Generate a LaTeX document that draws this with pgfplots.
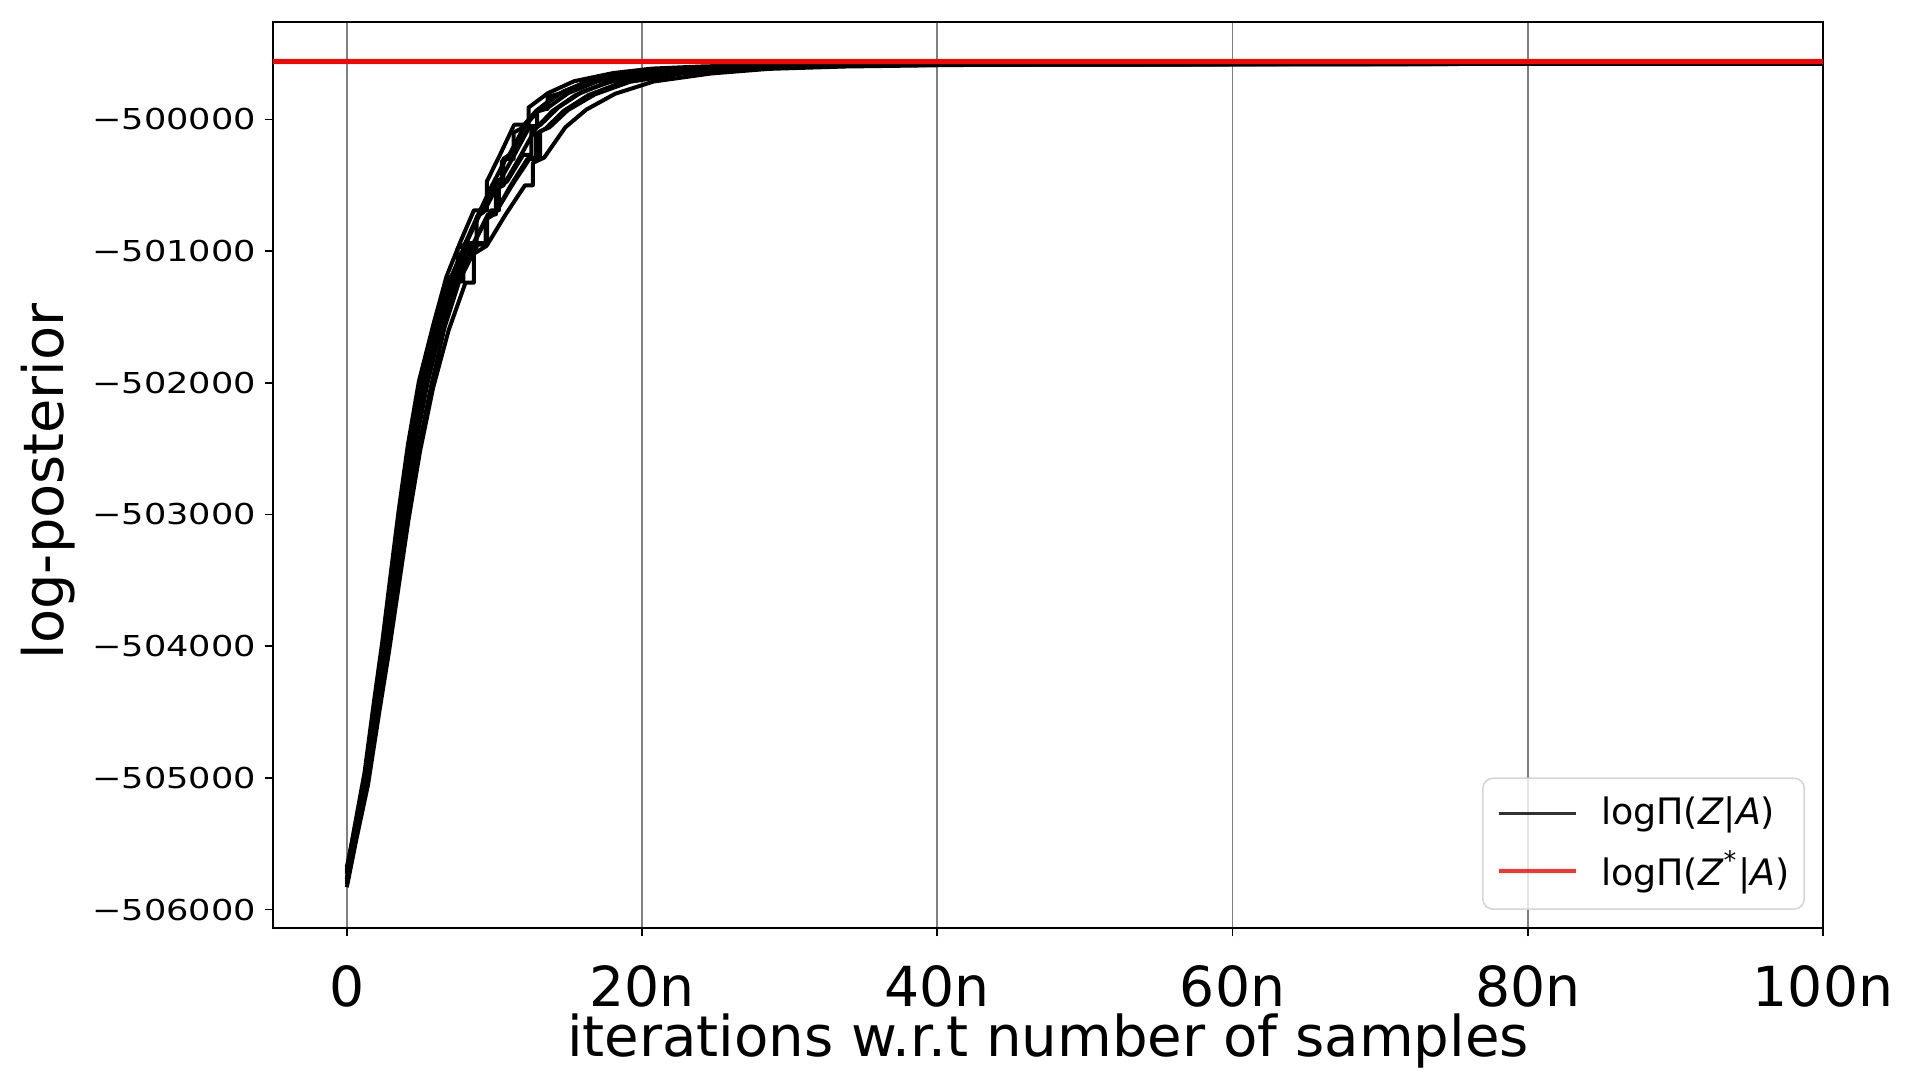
\documentclass[border=0pt]{standalone}
\usepackage{fontspec}
\setmainfont{DejaVu Sans}
\newfontfamily\ytfont[FakeStretch=1.22]{DejaVu Sans}
\usepackage{pgfplots}
\pgfplotsset{compat=1.18}

\begin{document}
\begin{tikzpicture}
\begin{axis}[
  at={(0,0)}, anchor=south west,
  width=387.5pt, height=226.5pt, scale only axis,
  xmin=-5, xmax=100, ymin=-506140, ymax=-499260,
  xtick={0,20,40,60,80,100},
  xticklabels={0,20n,40n,60n,80n,100n},
  ytick={-506000,-505000,-504000,-503000,-502000,-501000,-500000},
  yticklabels={−506000,−505000,−504000,−503000,−502000,−501000,−500000},
  scaled y ticks=false,
  tick align=outside, tick pos=left, major tick length=2.1pt,
  tick style={black, line width=0.45pt},
  axis line style={line width=0.45pt},
  xmajorgrids, grid style={gray, line width=0.4pt},
  xticklabel style={font=\fontsize{13.8}{15}\selectfont, anchor=base, yshift=-17.5pt, inner sep=0pt},
  yticklabel style={font=\ytfont\fontsize{7.2}{8}\selectfont, anchor=east, inner sep=0pt, xshift=-2pt},
  xlabel={iterations w.r.t number of samples},
  xlabel style={font=\fontsize{14.05}{16}\selectfont, at={(axis description cs:0.5,0)}, anchor=base, yshift=-32.1pt},
  ylabel={log-posterior},
  ylabel style={font=\fontsize{13.95}{16}\selectfont, at={(axis description cs:-0.145,0.493)}, anchor=center},
  legend style={at={(0.9884,0.02)}, anchor=south east,
    draw=black!20, rounded corners=2.5pt, fill=white, fill opacity=0.8, draw opacity=0.8, text opacity=1,
    inner xsep=3.6pt, inner ysep=2.5pt, row sep=1.2pt,
    nodes={inner xsep=0pt},
    font=\fontsize{9.1}{10}\selectfont},
  legend cell align=left,
  legend image code/.code={\draw[#1, line width=0.8pt] (0pt,0pt) -- (19.2pt,0pt); \path (25pt,0pt);},
  every axis plot/.append style={line join=round},
]
% chains
\addplot[black, line width=1pt] coordinates {(0,-505700) (0.56,-505350) (1.2,-504960) (1.84,-504420) (2.4,-503970) (2.94,-503480) (3.5,-502980) (4.14,-502470) (4.88,-501990) (5.88,-501550) (6.76,-501190) (7.73,-500920) (8.61,-500690) (9.49,-500690) (9.49,-500470) (10.37,-500270) (11.34,-500040) (12.31,-500040) (12.31,-499910) (13.63,-499800) (15.39,-499710) (18.03,-499648) (20.67,-499614) (24.19,-499597) (28.59,-499588) (32.99,-499582) (100,-499575)};
\addlegendentry{logΠ(\textit{Z}|\textit{A})\hspace{0.8pt}}
\addplot[black, line width=1pt, forget plot] coordinates {(0,-505790) (0.57,-505420) (1.23,-505020) (1.9,-504470) (2.47,-504020) (3.04,-503520) (3.6,-503020) (4.27,-502500) (5.03,-502020) (6.03,-501580) (6.96,-501220) (7.5,-501220) (7.5,-500980) (7.98,-500950) (8.91,-500720) (9.84,-500500) (10.77,-500300) (11.3,-500300) (11.3,-500100) (11.79,-500070) (12.82,-499935) (14.21,-499815) (16.07,-499720) (18.86,-499655) (21.65,-499618) (25.37,-499600) (30.02,-499590) (34.67,-499583) (100,-499576)};
\addplot[black, line width=1pt, forget plot] coordinates {(0,-505730) (0.6,-505380) (1.3,-504980) (2.0,-504430) (2.6,-503980) (3.2,-503480) (3.8,-502980) (4.5,-502460) (5.3,-501980) (6.17,-501540) (6.6,-501540) (6.6,-501260) (7.14,-501180) (8.21,-500910) (9.18,-500680) (10.15,-500460) (10.6,-500460) (10.6,-500300) (11.12,-500260) (12.19,-500030) (13.25,-499900) (14.71,-499785) (16.65,-499700) (19.56,-499645) (22.47,-499612) (26.35,-499596) (31.2,-499587) (36.05,-499581) (100,-499575)};
\addplot[black, line width=1pt, forget plot] coordinates {(0,-505760) (0.6,-505410) (1.3,-505010) (2.0,-504460) (2.6,-504010) (3.2,-503510) (3.8,-503010) (4.5,-502490) (5.3,-502010) (6.2,-501570) (7.2,-501210) (8.3,-500940) (8.8,-500940) (8.8,-500740) (9.3,-500700) (10.3,-500480) (11.3,-500280) (12.4,-500050) (12.9,-500050) (12.9,-499940) (13.5,-499920) (15,-499800) (17,-499710) (20,-499650) (23,-499615) (27,-499598) (32,-499588) (37,-499582) (100,-499575)};
\addplot[black, line width=1pt, forget plot] coordinates {(0,-505810) (0.61,-505440) (1.33,-505030) (2.04,-504480) (2.65,-504030) (3.26,-503530) (3.88,-503030) (4.59,-502510) (5.41,-502030) (6.35,-501590) (7.39,-501230) (7.9,-501230) (7.9,-500990) (8.53,-500950) (9.57,-500720) (10.1,-500720) (10.1,-500530) (10.61,-500500) (11.65,-500300) (12.79,-500070) (13.94,-499935) (15.5,-499815) (17.58,-499720) (20.7,-499655) (23.82,-499618) (27.86,-499600) (33.07,-499589) (38.27,-499583) (100,-499576)};
\addplot[black, line width=1pt, forget plot] coordinates {(0,-505680) (0.62,-505340) (1.34,-504960) (2.06,-504420) (2.68,-503970) (3.3,-503480) (3.91,-502990) (4.64,-502470) (5.46,-501990) (6.43,-501550) (7.51,-501190) (8.7,-500920) (9.78,-500690) (10.3,-500690) (10.3,-500510) (10.86,-500470) (11.94,-500270) (12.5,-500270) (12.5,-500080) (13.13,-500040) (14.32,-499910) (15.94,-499790) (18.1,-499705) (21.34,-499646) (24.58,-499613) (28.9,-499597) (34.3,-499587) (39.7,-499581) (100,-499575)};
\addplot[black, line width=1pt, forget plot] coordinates {(0,-505770) (0.64,-505420) (1.4,-505020) (2.16,-504470) (2.8,-504020) (3.46,-503520) (4.1,-503020) (4.86,-502500) (5.72,-502020) (6.62,-501580) (7.64,-501220) (8.87,-500950) (9.4,-500950) (9.4,-500760) (9.99,-500720) (11.11,-500500) (12.23,-500300) (12.8,-500300) (12.8,-500110) (13.46,-500070) (14.69,-499935) (16.37,-499815) (18.61,-499720) (21.97,-499655) (25.33,-499618) (29.81,-499600) (35.41,-499589) (41.01,-499583) (100,-499576)};
\addplot[black, line width=1pt, forget plot] coordinates {(0,-505720) (0.59,-505370) (1.29,-504970) (1.98,-504440) (2.57,-503990) (3.17,-503490) (3.76,-502990) (4.46,-502480) (5.25,-502000) (6.11,-501560) (7.06,-501200) (8.1,-500930) (9.05,-500700) (10.0,-500480) (10.5,-500480) (10.5,-500320) (10.95,-500280) (12.04,-500050) (13.09,-499920) (13.6,-499920) (13.6,-499830) (14.51,-499800) (16.41,-499710) (19.26,-499650) (22.11,-499615) (25.91,-499598) (30.66,-499588) (35.41,-499582) (100,-499575)};
\addplot[black, line width=1pt, forget plot] coordinates {(0,-505830) (0.66,-505460) (1.44,-505050) (2.2,-504500) (2.86,-504040) (3.52,-503540) (4.18,-503040) (4.96,-502520) (5.84,-502040) (6.9,-501600) (8.04,-501240) (8.6,-501240) (8.6,-501020) (9.47,-500960) (10.77,-500720) (12.07,-500500) (12.6,-500500) (12.6,-500330) (13.37,-500290) (14.8,-500060) (16.23,-499925) (18.18,-499805) (20.78,-499712) (24.68,-499651) (28.58,-499616) (33.78,-499598) (40.28,-499588) (46.78,-499582) (100,-499575)};
\addplot[black, line width=1pt, forget plot] coordinates {(0,-505700) (0.61,-505360) (1.31,-504970) (2.02,-504430) (2.63,-503980) (3.23,-503490) (3.84,-502990) (4.55,-502480) (5.35,-502000) (6.41,-501570) (7.59,-501210) (8.89,-500940) (9.5,-500940) (9.5,-500740) (10.07,-500710) (11.25,-500490) (12.43,-500290) (13.1,-500290) (13.1,-500090) (13.73,-500060) (14.97,-499930) (16.8,-499810) (19.16,-499715) (22.7,-499652) (26.24,-499617) (30.96,-499599) (36.86,-499589) (42.76,-499583) (100,-499576)};
% optimum
\addplot[red, line width=1.1pt] coordinates {(-5,-499560) (100,-499560)};
\addlegendentry{logΠ(\textit{Z}\textsuperscript{*}|\textit{A})\hspace{0.8pt}}
\end{axis}
\pgfresetboundingbox
\path (-68.25pt,-40pt) rectangle (410pt,232pt);
\end{tikzpicture}
\end{document}
